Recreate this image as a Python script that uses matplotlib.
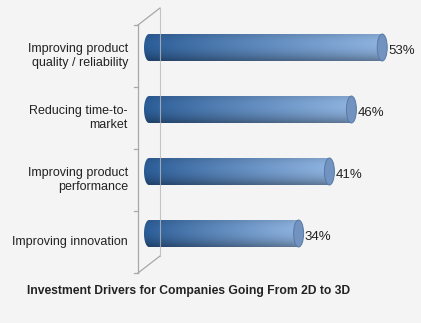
import numpy as np
import matplotlib
matplotlib.use('Agg')
import matplotlib.pyplot as plt
from matplotlib.patches import Ellipse, Polygon
from matplotlib.colors import to_rgb

# data
categories = ['Improving product\nquality / reliability',
              'Reducing time-to-\nmarket',
              'Improving product\nperformance',
              'Improving innovation']
values = [53, 46, 41, 34]
value_labels = ['53%', '46%', '41%', '34%']
title = 'Investment Drivers for Companies Going From 2D to 3D'

plt.rcParams['font.family'] = ['Liberation Sans', 'DejaVu Sans']
bg = '#f4f4f4'
frame_col = '#a8a8a8'
text_col = '#222222'

fig = plt.figure(figsize=(4.21, 3.23), dpi=100, facecolor=bg)
ax = fig.add_axes([138 / 421, 50 / 323, 283 / 421, 248 / 323])
ax.axis('off')

px = 4.4            # pixels per percent
dx, dy = 2.5, -0.137  # half of the 3d depth offset
bar_h = 0.435
cap_w = 10 / px

# 3d frame
ax.plot([0, 0], [-0.5, 3.5], color=frame_col, lw=0.9, clip_on=False)
ax.plot([0, 2 * dx], [-0.5, -0.5 + 2 * dy], color=frame_col, lw=0.9, clip_on=False)
ax.plot([0, 2 * dx], [3.5, 3.5 + 2 * dy], color=frame_col, lw=0.9, clip_on=False)
for b in np.arange(-0.5, 4, 1):
    ax.plot([-0.8, 0], [b, b], color=frame_col, lw=0.9, clip_on=False)

# gradient for the cylinders
left_col = np.array(to_rgb('#27558b'))
right_col = np.array(to_rgb('#84a6cf'))
nx, ny = 200, 60
tx = np.linspace(0, 1, nx)
ty = np.linspace(0, 1, ny)
shade = np.clip(1.08 - 0.85 * (ty - 0.35) ** 2, 0, 1.2)

for i, (v, lbl) in enumerate(zip(values, value_labels)):
    yc = i + dy
    x0 = dx - cap_w / 2
    x1 = dx + v
    horiz = left_col[None, :] + (right_col - left_col)[None, :] * (tx ** 0.9)[:, None]
    img = np.clip(horiz[None, :, :] * shade[:, None, None], 0, 1)
    im = ax.imshow(img, extent=(x0, x1, yc + bar_h / 2, yc - bar_h / 2),
                   aspect='auto', origin='upper', interpolation='bilinear', zorder=2)
    th = np.linspace(np.pi / 2, 3 * np.pi / 2, 40)
    ex = dx + cap_w / 2 * np.cos(th)
    ey = yc - bar_h / 2 * np.sin(th)
    pts = np.column_stack([np.r_[ex, x1, x1], np.r_[ey, yc + bar_h / 2, yc - bar_h / 2]])
    clip = Polygon(pts, closed=True, transform=ax.transData, facecolor='none', edgecolor='none')
    ax.add_patch(clip)
    im.set_clip_path(clip)
    cap = Ellipse((x1, yc), cap_w, bar_h, facecolor='#7293bf', edgecolor='#5679a6',
                  lw=0.7, zorder=3)
    ax.add_patch(cap)
    ax.text(x1 + cap_w / 2 + 0.3, yc + 0.05, lbl, ha='left', va='center',
            fontsize=9.5, color=text_col)

# back line drawn over bars
ax.plot([2 * dx, 2 * dx], [-0.5 + 2 * dy, 3.5 + 2 * dy], color='#b8b8b8', lw=0.8,
        clip_on=False, zorder=4, alpha=0.8)

for i, cat in enumerate(categories):
    ax.text(-2.3, i, cat, ha='right', va='center', fontsize=9, color=text_col,
            linespacing=1.3)

ax.set_xlim(0, 283 / px)
ax.set_ylim(3.5, -0.5)

fig.text(189 / 421, 1 - 291 / 323, title, ha='center', va='center', fontsize=8.7,
         fontweight='bold', color=text_col)

fig.savefig('out.png', dpi=100, facecolor=bg)
